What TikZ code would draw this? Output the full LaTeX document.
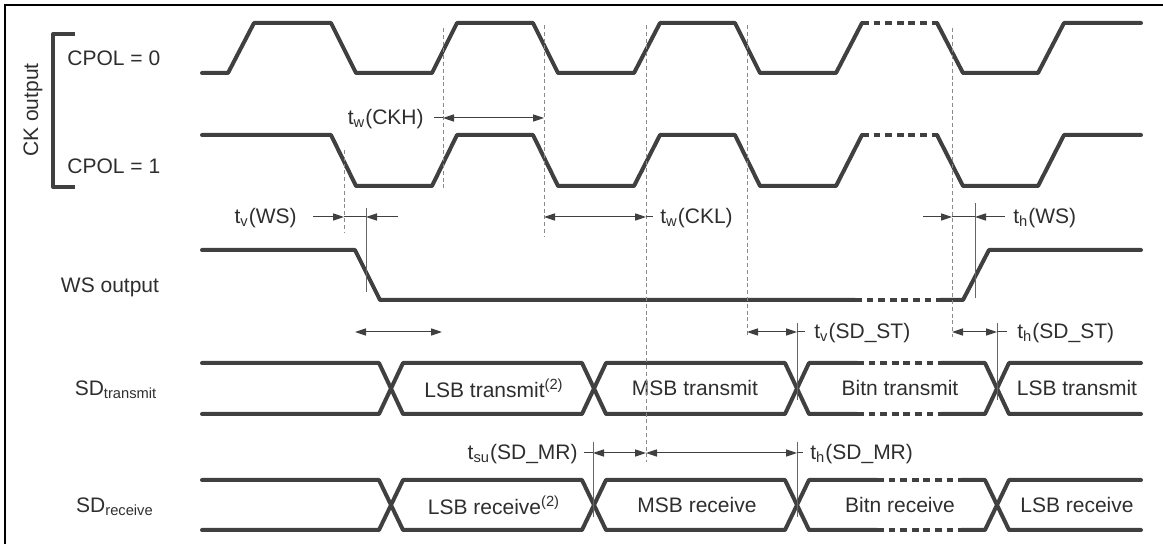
\documentclass[tikz,border=0pt]{standalone}
\usepackage{fontspec}
\setmainfont{Liberation Sans}
\usetikzlibrary{arrows.meta}
\definecolor{wave}{HTML}{404040}
\definecolor{guidegray}{HTML}{8A8A8A}
\definecolor{inkgray}{HTML}{2E2E2E}

\begin{document}
\begin{tikzpicture}[x=0.5pt,y=-0.5pt,
  >={Triangle[length=5.5pt,width=3.6pt]},
  every node/.style={text=inkgray,font=\fontsize{10.5}{12}\selectfont,inner sep=0pt},
  sig/.style={wave,line width=2pt,line cap=round,line join=round},
  dotseg/.style={wave,line width=2pt,dash pattern=on 3.4pt off 2.4pt},
  thinline/.style={wave,line width=0.5pt},
  refline/.style={gray!80!black,line width=0.5pt},
  guideline/.style={guidegray,line width=0.45pt,dash pattern=on 2pt off 1.4pt}]
  \useasboundingbox (0,0) rectangle (1163,544);
  \draw[black,line width=1.1pt] (5,544) -- (5,5) -- (1163,5);

  % left labels
  \draw[sig,line cap=butt] (75,34) -- (53,34) -- (53,187) -- (75,187);
  \node[rotate=90] (ckout) at (33,110) {CK output};
  \node[anchor=west] (cpol0) at (67,58) {CPOL = 0};
  \node[anchor=west] (cpol1) at (67,166) {CPOL = 1};
  \node (wsout) at (110,287) {WS output};
  \node (sdtx) at (116,390) {SD\textsubscript{transmit}};
  \node (sdrx) at (115,507) {SD\textsubscript{receive}};

  % clocks
  \draw[sig] (202,73) -- (228,73) -- (254,23) -- (331,23) -- (356,73) -- (432,73) -- (457,23) -- (533,23) -- (558,73)
    -- (634,73) -- (660,23) -- (735,23) -- (760,73) -- (836,73) -- (862,23);
  \draw[dotseg] (862,23) -- (937,23);
  \draw[sig] (937,23) -- (963,73) -- (1038,73) -- (1064,23) -- (1141,23);

  \draw[sig] (202,135) -- (331,135) -- (356,186) -- (432,186) -- (457,135) -- (533,135) -- (558,186)
    -- (634,186) -- (660,135) -- (735,135) -- (760,186) -- (836,186) -- (862,135);
  \draw[dotseg] (862,135) -- (937,135);
  \draw[sig] (937,135) -- (963,186) -- (1038,186) -- (1064,135) -- (1141,135);

  % word select
  \draw[sig] (202,250) -- (355,250) -- (380,300) -- (855,300);
  \draw[dotseg] (855,300) -- (940,300);
  \draw[sig] (940,300) -- (963,300) -- (989,250) -- (1141,250);

  % transmit bus
  \draw[sig] (202,363) -- (379,363) -- (391,388.5) -- (379,414) -- (202,414);
  \draw[sig] (391,388.5) -- (403,363) -- (582,363) -- (594,388.5) -- (582,414) -- (403,414) -- cycle;
  \draw[sig] (594,388.5) -- (606,363) -- (785,363) -- (797,388.5) -- (785,414) -- (606,414) -- cycle;
  \draw[sig] (857,363) -- (809,363) -- (797,388.5) -- (809,414) -- (857,414);
  \draw[dotseg] (857,363) -- (941,363) (857,414) -- (941,414);
  \draw[sig] (941,363) -- (985,363) -- (997,388.5) -- (985,414) -- (941,414);
  \draw[sig] (1141,363) -- (1009,363) -- (997,388.5) -- (1009,414) -- (1141,414);
  \node (lsbtx) at (494,388) {LSB transmit\textsuperscript{(2)}};
  \node (msbtx) at (695,388) {MSB transmit};
  \node (bitntx) at (900,388) {Bitn transmit};
  \node (lsbtx2) at (1077,388) {LSB transmit};

  % receive bus
  \draw[sig] (202,480) -- (379,480) -- (391,505) -- (379,530) -- (202,530);
  \draw[sig] (391,505) -- (403,480) -- (582,480) -- (594,505) -- (582,530) -- (403,530) -- cycle;
  \draw[sig] (594,505) -- (606,480) -- (785,480) -- (797,505) -- (785,530) -- (606,530) -- cycle;
  \draw[sig] (877,480) -- (809,480) -- (797,505) -- (809,530) -- (877,530);
  \draw[dotseg] (877,480) -- (961,480) (877,530) -- (961,530);
  \draw[sig] (961,480) -- (985,480) -- (997,505) -- (985,530) -- (961,530);
  \draw[sig] (1141,480) -- (1009,480) -- (997,505) -- (1009,530) -- (1141,530);
  \node (lsbrx) at (494,505) {LSB receive\textsuperscript{(2)}};
  \node (msbrx) at (697,505) {MSB receive};
  \node (bitnrx) at (900,505) {Bitn receive};
  \node (lsbrx2) at (1077,505) {LSB receive};

  % guides
  \draw[guideline] (344,150) -- (344,233);
  \draw[guideline] (443,28) -- (443,188);
  \draw[guideline] (544,25) -- (544,237);
  \draw[guideline] (646,25) -- (646,462);
  \draw[guideline] (747,25) -- (747,337);
  \draw[guideline] (952,28) -- (952,337);
  \draw[refline] (366,208) -- (366,292);
  \draw[refline] (975,203) -- (975,298);
  \draw[refline] (797,323) -- (797,400);
  \draw[refline] (997,323) -- (997,400);
  \draw[refline] (593,442) -- (593,517);
  \draw[refline] (797,442) -- (797,517);

  % timings
  \draw[thinline] (434,118) -- (443,118);
  \draw[thinline,<->] (443,118) -- (544,118);
  \node[anchor=east] (twckh) at (424,119) {t\textsubscript{w}(CKH)};

  \draw[thinline,->] (313,217) -- (344,217);
  \draw[thinline] (344,217) -- (366,217);
  \draw[thinline,->] (398,217) -- (366,217);
  \node[anchor=east] (tvws) at (297,218) {t\textsubscript{v}(WS)};

  \draw[thinline,<->] (544,217) -- (646,217);
  \draw[thinline] (646,217) -- (653,217);
  \node[anchor=west] (twckl) at (660,218) {t\textsubscript{w}(CKL)};

  \draw[thinline,->] (923,217) -- (952,217);
  \draw[thinline] (952,217) -- (975,217);
  \draw[thinline,->] (1005,217) -- (975,217);
  \node[anchor=west] (thws) at (1013,218) {t\textsubscript{h}(WS)};

  \draw[thinline,<->] (355,332) -- (442,332);

  \draw[thinline,<->] (747,332) -- (797,332);
  \draw[thinline] (797,332) -- (805,332);
  \node[anchor=west] (tvsdst) at (814,333) {t\textsubscript{v}(SD\_ST)};

  \draw[thinline,<->] (952,332) -- (997,332);
  \draw[thinline] (997,332) -- (1007,332);
  \node[anchor=west] (thsdst) at (1017,333) {t\textsubscript{h}(SD\_ST)};

  \draw[thinline] (584,453) -- (593,453);
  \draw[thinline,<->] (593,453) -- (646,453);
  \draw[thinline,<->] (646,453) -- (797,453);
  \draw[thinline] (797,453) -- (803,453);
  \node[anchor=east] (tsusdmr) at (578,454) {t\textsubscript{su}(SD\_MR)};
  \node[anchor=west] (thsdmr) at (810,454) {t\textsubscript{h}(SD\_MR)};
\end{tikzpicture}
\end{document}
